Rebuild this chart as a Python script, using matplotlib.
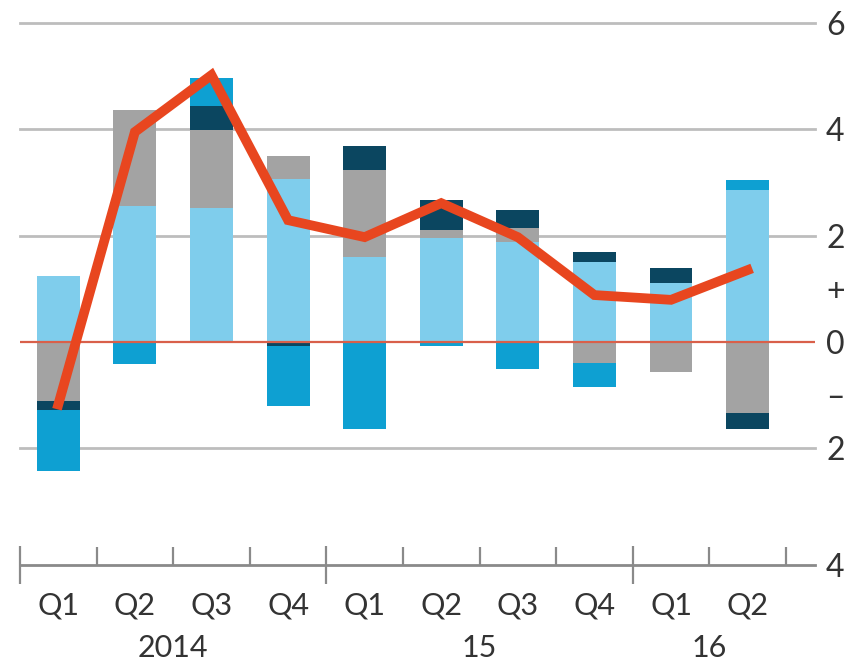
import numpy as np
import matplotlib
matplotlib.use('Agg')
import matplotlib.pyplot as plt

# Kwartalen en jaartallen
quarters = ['Q1', 'Q2', 'Q3', 'Q4', 'Q1', 'Q2', 'Q3', 'Q4', 'Q1', 'Q2']
years = ['2014', '15', '16']
year_pos = [1.5, 5.5, 8.5]

# Bijdragen per component (procentpunten)
light_blue = [1.24, 2.56, 2.52, 3.06, 1.60, 1.95, 1.88, 1.50, 1.10, 2.86]
grey = [-1.11, 1.80, 1.46, 0.44, 1.63, 0.15, 0.26, -0.40, -0.56, -1.34]
navy = [-0.17, 0.00, 0.46, -0.08, 0.45, 0.57, 0.34, 0.19, 0.28, -0.30]
mid_blue = [-1.16, -0.41, 0.52, -1.12, -1.64, -0.07, -0.51, -0.45, 0.00, 0.19]

# Totale groei (lijn)
total = [-1.18, 3.95, 5.02, 2.29, 1.97, 2.61, 1.97, 0.88, 0.79, 1.35]

y_ticks = [6, 4, 2, 1, 0, -1, -2, -4.2]
y_labels = ['6', '4', '2', '+', '0', '–', '2', '4']

plt.rcParams['font.family'] = ['Lato', 'DejaVu Sans']

fig = plt.figure(figsize=(8.5, 6.67), dpi=100)
ax = fig.add_axes([20 / 850, 1 - 565 / 667, 795 / 850, 542 / 667])

x = np.arange(len(quarters))
colors = ['#7fcdec', '#a3a3a3', '#0b4660', '#0ea0d2']
pos_base = np.zeros(len(x))
neg_base = np.zeros(len(x))
for series, c in zip([light_blue, grey, navy, mid_blue], colors):
    v = np.array(series)
    pos = np.where(v > 0, v, 0)
    neg = np.where(v < 0, v, 0)
    ax.bar(x, pos, bottom=pos_base, width=0.56, color=c, zorder=2, linewidth=0)
    ax.bar(x, neg, bottom=neg_base, width=0.56, color=c, zorder=2, linewidth=0)
    pos_base += pos
    neg_base += neg

ax.plot(x, total, color='#e8461f', lw=7, zorder=4, solid_joinstyle='miter')

# Rasterlijnen
for yv in [6, 4, 2, -2]:
    ax.axhline(yv, color='#bdbdbd', lw=2, zorder=1, clip_on=False)
ax.axhline(0, color='#d9604a', lw=1.6, zorder=3)

ax.set_xlim(-0.5, 9.88)
ax.set_ylim(-4.2, 6)

for s in ['top', 'left', 'right']:
    ax.spines[s].set_visible(False)
ax.spines['bottom'].set_color('#8a8a8a')
ax.spines['bottom'].set_linewidth(2)

ax.yaxis.tick_right()
ax.set_yticks(y_ticks)
ax.set_yticklabels(y_labels, fontsize=23, color='#333333')
ax.tick_params(axis='y', length=0, pad=8)

# Minor ticks op de kwartaalgrenzen, major op de jaargrenzen
ax.set_xticks(np.arange(-0.5, 10, 1), minor=True)
ax.set_xticks([-0.5, 3.5, 7.5])
ax.set_xticklabels([])
ax.tick_params(axis='x', which='minor', direction='in', length=13, width=1.6, color='#8a8a8a')
ax.tick_params(axis='x', which='major', direction='inout', length=28, width=1.6, color='#8a8a8a')

for i, q in enumerate(quarters):
    ax.text(i, -4.2 - 40 / 53, q, ha='center', va='center', fontsize=22, color='#333333')
for p, yr in zip(year_pos, years):
    ax.text(p, -4.2 - 83 / 53, yr, ha='center', va='center', fontsize=22, color='#333333')

fig.savefig('out.png', dpi=100)
